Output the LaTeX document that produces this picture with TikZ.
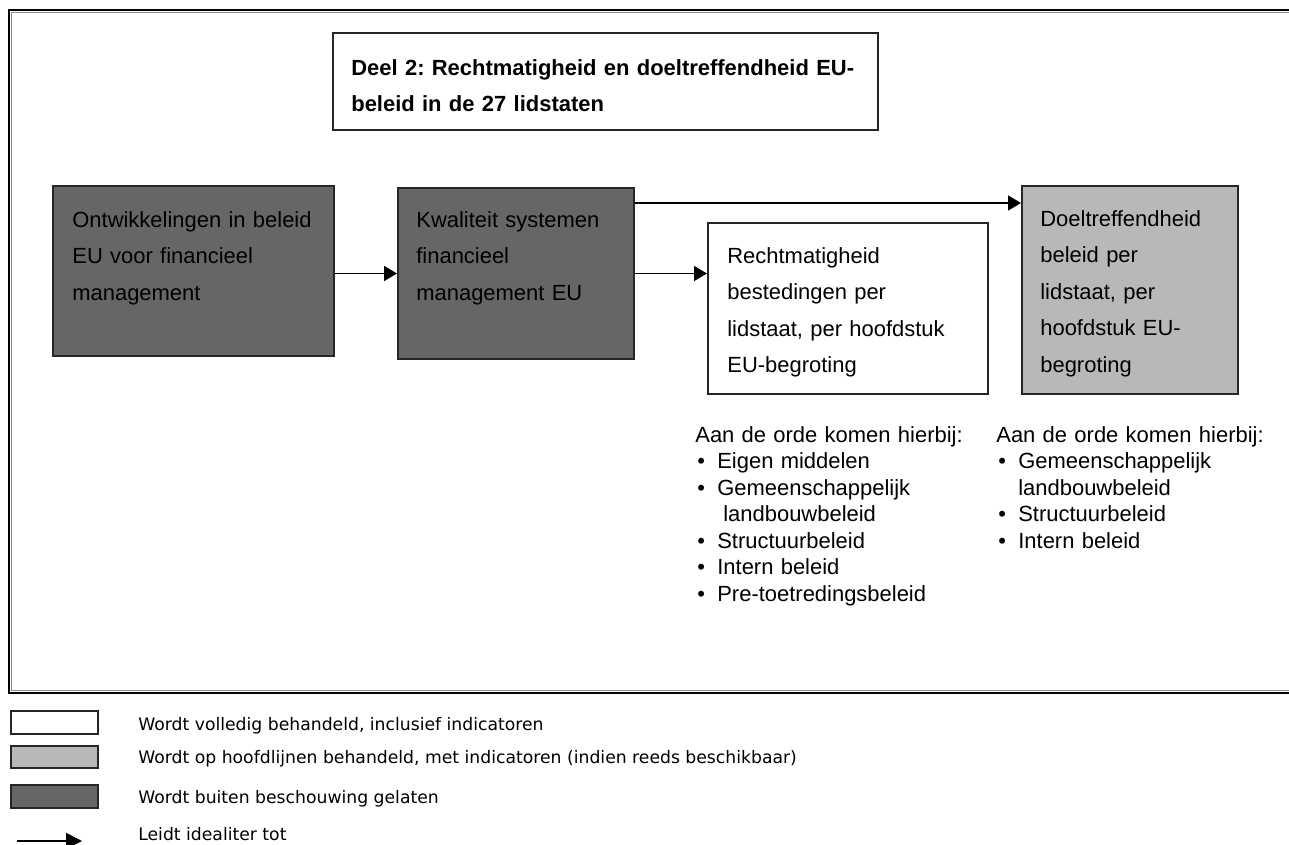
\documentclass[tikz,border=0pt]{standalone}
\usepackage{fontspec}
\setmainfont{Liberation Sans}
\newfontfamily\legendafont{DejaVu Sans}
\usetikzlibrary{arrows.meta,positioning}
\definecolor{donker}{gray}{0.40}
\definecolor{licht}{gray}{0.72}
\newlength\pxl
\setlength\pxl{0.02cm}
\newcommand{\punt}{\makebox[22\pxl][l]{\hspace*{2\pxl}\textbullet}}
\frenchspacing

\begin{document}
\begin{tikzpicture}[
    x=0.02cm, y=-0.02cm,
    >={Triangle[length=0.26cm,width=0.3cm]},
    font=\fontsize{12.5}{20.8}\selectfont,
    blok/.style={
		rectangle,
		draw=black!85,
		line width=2*\pxl,
		anchor=north west,
		inner sep=0pt,
		fill=white
	},
	tekst/.style={
		anchor=base west,
		inner sep=0pt,
		align=left,
		text width=240*\pxl
	},
	lijst/.style={
		anchor=base west,
		inner sep=0pt,
		align=left,
		text width=290*\pxl,
		font=\fontsize{12.5}{15.1}\selectfont
	},
	pijl/.style={
		->,
		line width=1.6*\pxl
	},
	legenda/.style={
		anchor=base west,
		inner sep=0pt,
		font=\legendafont\fontsize{9.8}{12}\selectfont
	}
  ]
\useasboundingbox (0,0) rectangle (1289,845);

% // The frame
\draw [line width=2.5*\pxl] (1289,10) -- (9,10) -- (9,693) -- (1289,693);
\draw [black!45, line width=1.2*\pxl] (1289,12.5) -- (11.5,12.5) -- (11.5,690.5) -- (1289,690.5);

% // Title
\node [blok, minimum width=545*\pxl, minimum height=97*\pxl] (titel) at (332,32) {};
\node [tekst, text width=520*\pxl, font=\bfseries\fontsize{12.5}{21}\selectfont] (titeltekst)
  at ([xshift=19*\pxl, yshift=-43*\pxl]titel.north west)
  {Deel 2: Rechtmatigheid en doeltreffendheid EU-\\beleid in de 27 lidstaten};

% // The boxes
\node [blok, fill=donker, minimum width=281*\pxl, minimum height=170*\pxl] (ontw) at (52,185) {};
\node [tekst] (ontwtekst) at ([xshift=20*\pxl, yshift=-42*\pxl]ontw.north west)
  {Ontwikkelingen in beleid\\EU voor financieel\\management};

\node [blok, fill=donker, minimum width=236*\pxl, minimum height=171*\pxl] (kwal) at (397,187) {};
\node [tekst] (kwaltekst) at ([xshift=19*\pxl, yshift=-40*\pxl]kwal.north west)
  {Kwaliteit systemen\\financieel\\management EU};

\node [blok, minimum width=280*\pxl, minimum height=171*\pxl] (recht) at (707,222) {};
\node [tekst] (rechttekst) at ([xshift=20*\pxl, yshift=-41*\pxl]recht.north west)
  {Rechtmatigheid\\bestedingen per\\lidstaat, per hoofdstuk\\EU-begroting};

\node [blok, fill=licht, minimum width=216*\pxl, minimum height=208*\pxl] (doel) at (1021,185) {};
\node [tekst] (doeltekst) at ([xshift=19*\pxl, yshift=-41*\pxl]doel.north west)
  {Doeltreffendheid\\beleid per\\lidstaat, per\\hoofdstuk EU-\\begroting};

% // The lists
\node [lijst] (lijstrecht) at ([xshift=-12*\pxl, yshift=-47*\pxl]recht.south west)
  {Aan de orde komen hierbij:\\
   \punt Eigen middelen\\
   \punt Gemeenschappelijk\\
   \hspace*{28\pxl}landbouwbeleid\\
   \punt Structuurbeleid\\
   \punt Intern beleid\\
   \punt Pre-toetredingsbeleid};
\node [lijst] (lijstdoel) at ([xshift=-25*\pxl, yshift=-47*\pxl]doel.south west)
  {Aan de orde komen hierbij:\\
   \punt Gemeenschappelijk\\
   \hspace*{22\pxl}landbouwbeleid\\
   \punt Structuurbeleid\\
   \punt Intern beleid};

% // The arrows
\coordinate (boven) at ([yshift=-16*\pxl]kwal.north east);
\draw [pijl] (kwal.west -| ontw.east) -- (kwal.west);
\draw [pijl] (kwal.east) -- (kwal.east -| recht.west);
\draw [pijl] (boven) -- (boven -| doel.west);

% // Legend
\node [blok, minimum width=87*\pxl, minimum height=23*\pxl] (legwit) at (10,710) {};
\node [blok, fill=licht, minimum width=87*\pxl, minimum height=22*\pxl] (leglicht) at (10,745) {};
\node [blok, fill=donker, minimum width=87*\pxl, minimum height=23*\pxl] (legdonker) at (10,784) {};
\coordinate (legvan) at (17,841);
\coordinate (legnaar) at (82,841);
\draw [pijl, >={Triangle[length=0.32cm,width=0.32cm]}] (legvan) -- (legnaar);

\node [legenda] (legtekst1) at (138,730) {Wordt volledig behandeld, inclusief indicatoren};
\node [legenda] (legtekst2) at (138,763) {Wordt op hoofdlijnen behandeld, met indicatoren (indien reeds beschikbaar)};
\node [legenda] (legtekst3) at (138,803) {Wordt buiten beschouwing gelaten};
\node [legenda] (legtekst4) at (138,840) {Leidt idealiter tot};

\end{tikzpicture}
\end{document}
